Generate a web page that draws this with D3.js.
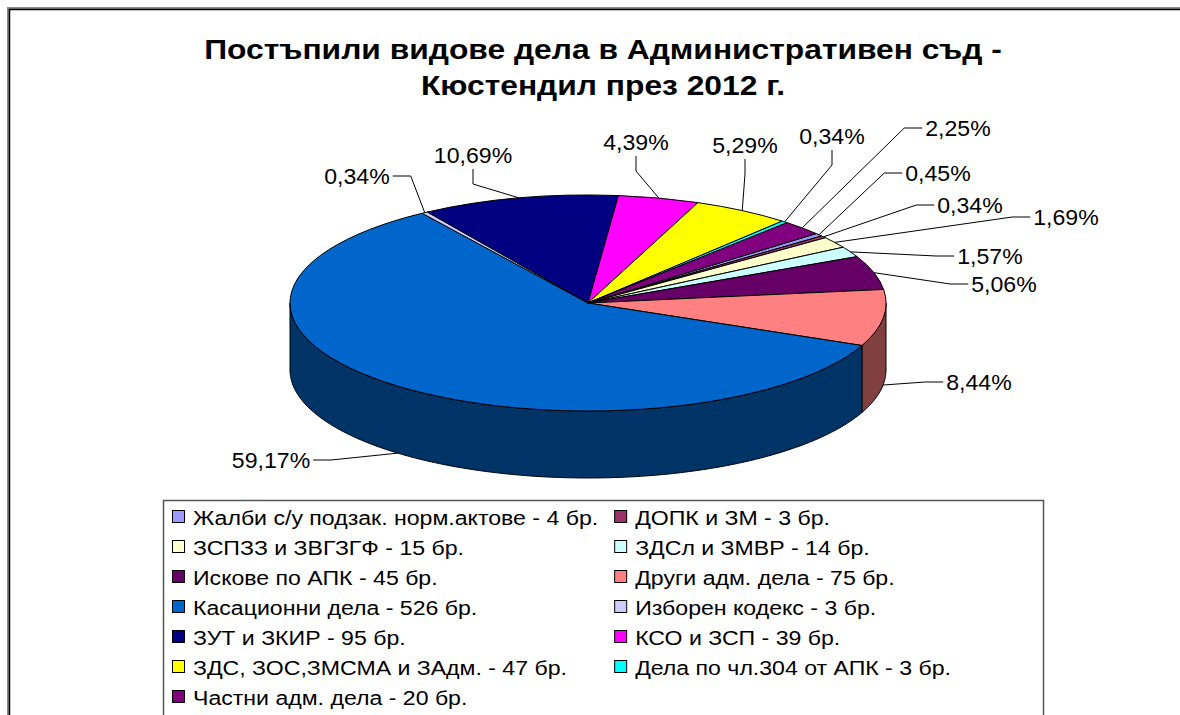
<!DOCTYPE html>
<html>
<head>
<meta charset="utf-8">
<script src="https://cdn.jsdelivr.net/npm/d3@7/dist/d3.min.js"></script>
<style>
  html, body { margin: 0; padding: 0; background: #fff; }
  svg { display: block; font-family: "Liberation Sans", Arial, sans-serif; }
</style>
</head>
<body>
<svg id="chart" width="1180" height="715"></svg>
<script>
// ---- data ----
const titleLines = ["Постъпили видове дела в Административен съд -", "Кюстендил през 2012 г."];
const categories = [
  "Жалби с/у подзак. норм.актове",
  "ДОПК и ЗМ",
  "ЗСПЗЗ и ЗВГЗГФ",
  "ЗДСл и ЗМВР",
  "Искове по АПК",
  "Други адм. дела",
  "Касационни дела",
  "Изборен кодекс",
  "ЗУТ и ЗКИР",
  "КСО и ЗСП",
  "ЗДС, ЗОС,ЗМСМА и ЗАдм.",
  "Дела по чл.304 от АПК",
  "Частни адм. дела"
];
const counts = [4, 3, 15, 14, 45, 75, 526, 3, 95, 39, 47, 3, 20];
const colors = ["#9999FF", "#993366", "#FFFFCC", "#CCFFFF", "#660066", "#FF8080", "#0066CC",
                "#CCCCFF", "#000080", "#FF00FF", "#FFFF00", "#00FFFF", "#800080"];

// ---- layout (not data) ----
const labelLayout = [
  {x: 938, y: 173, side: "left"},
  {x: 970, y: 205, side: "left"},
  {x: 1066, y: 217, side: "left"},
  {x: 990, y: 256, side: "left"},
  {x: 1004, y: 284, side: "left"},
  {x: 979, y: 382, side: "left"},
  {x: 271, y: 460, side: "right"},
  {x: 357, y: 176, side: "right"},
  {x: 473, y: 155, side: "below"},
  {x: 636, y: 142, side: "below"},
  {x: 745, y: 145, side: "below"},
  {x: 832, y: 136, side: "below"},
  {x: 958, y: 128, side: "left"}
];
const titleSX = 1.135, labelSX = 1.05, legendSX = 1.1;

const svg = d3.select("#chart");
const W = 1180, H = 715;

// frame
svg.append("path").attr("d", `M8.5,${H}V8.5H${W}`).attr("fill", "none")
  .attr("stroke", "#888").attr("stroke-width", 3);
svg.append("path").attr("d", `M9.5,${H}V9.5H${W}`).attr("fill", "none")
  .attr("stroke", "#000").attr("stroke-width", 1.5);

// title
svg.append("g").selectAll("text").data(titleLines).join("text")
  .attr("transform", (d, i) => `translate(603,${59 + i * 36}) scale(${titleSX},1)`)
  .attr("text-anchor", "middle").attr("font-weight", "bold").attr("font-size", 28)
  .attr("fill", "#000").text(d => d);

// pie geometry
const cx = 588, cy = 303, rx = 298, ry = 108, depth = 67;
const startDeg = 50;
const total = d3.sum(counts);
const pie = d3.pie().sort(null).value(d => d)
  .startAngle(startDeg * Math.PI / 180).endAngle(startDeg * Math.PI / 180 + 2 * Math.PI);
const arcs = pie(counts);

const ex = a => cx + rx * Math.sin(a);
const ey = (a, dy) => cy - ry * Math.cos(a) + dy;
const shade = c => { const r = d3.rgb(c); return d3.rgb(r.r * 0.5, r.g * 0.5, r.b * 0.5).formatHex(); };

// side walls (front half: angles PI/2 .. 3PI/2, modulo 2PI)
const sideG = svg.append("g");
arcs.forEach((a, i) => {
  const segs = [];
  for (const off of [0, 2 * Math.PI]) {
    const lo = Math.max(a.startAngle, Math.PI / 2 + off);
    const hi = Math.min(a.endAngle, 3 * Math.PI / 2 + off);
    if (hi > lo) segs.push([lo, hi]);
  }
  segs.forEach(([lo, hi]) => {
    const n = Math.max(2, Math.ceil((hi - lo) / 0.01));
    const ts = d3.range(n + 1).map(k => lo + (hi - lo) * k / n);
    const pts = ts.map(t => [ex(t), ey(t, 0)]).concat(ts.slice().reverse().map(t => [ex(t), ey(t, depth)]));
    sideG.append("path").attr("d", d3.line()(pts) + "Z")
      .attr("fill", shade(colors[i])).attr("stroke", "#000").attr("stroke-width", 1)
      .attr("stroke-linejoin", "round");
  });
});

// top faces
const arcGen = d3.arc().innerRadius(0).outerRadius(rx);
svg.append("g").attr("transform", `translate(${cx},${cy}) scale(1,${ry / rx})`)
  .selectAll("path").data(arcs).join("path")
  .attr("d", arcGen)
  .attr("fill", (d, i) => colors[i])
  .attr("stroke", "#000").attr("stroke-width", 1)
  .attr("vector-effect", "non-scaling-stroke").attr("stroke-linejoin", "round");

// labels + leaders
const fmt = v => (v / total * 100).toFixed(2).replace(".", ",");
const labG = svg.append("g");
arcs.forEach((a, i) => {
  const L = labelLayout[i];
  const t = labG.append("text")
    .attr("transform", `translate(${L.x},${L.y}) scale(${labelSX},1)`).attr("dy", "0.36em")
    .attr("text-anchor", "middle").attr("font-size", 22).attr("fill", "#000")
    .text(fmt(counts[i]) + "%");
  const w = t.node().getComputedTextLength() * labelSX;
  const mid = (a.startAngle + a.endAngle) / 2;
  const front = Math.cos(mid) < 0;
  const p = [ex(mid), ey(mid, front ? depth : 0)];
  let pts;
  if (L.side === "left") pts = [[L.x - w / 2 - 3, L.y], [L.x - w / 2 - 21, L.y], p];
  else if (L.side === "right") pts = [[L.x + w / 2 + 3, L.y], [L.x + w / 2 + 21, L.y], p];
  else pts = [[L.x, L.y + 14], [L.x, L.y + 29], p];
  labG.append("path").attr("d", d3.line()(pts)).attr("fill", "none")
    .attr("stroke", "#000").attr("stroke-width", 1);
});

// legend
const legG = svg.append("g");
legG.append("path").attr("d", `M163.5,${H}V500.5H1043.5V${H}`).attr("fill", "none")
  .attr("stroke", "#555").attr("stroke-width", 1.5);
const legX1 = 172, rowY0 = 517, rowH = 30;
const items = categories.map((c, i) => ({name: c + " - " + counts[i] + " бр.", color: colors[i], i}));
const itemG = legG.selectAll("g.item").data(items).join("g").attr("class", "item");
itemG.append("text").attr("font-size", 21).attr("fill", "#000").attr("dy", "0.36em")
  .attr("transform", `translate(21,0) scale(${legendSX},1)`).text(d => d.name);
let maxW = 0;
itemG.filter(d => d.i % 2 === 0).select("text").each(function () { maxW = Math.max(maxW, this.getComputedTextLength() * legendSX); });
const colX = [legX1, legX1 + 21 + maxW + 16];
itemG.attr("transform", d => `translate(${colX[d.i % 2]},${rowY0 + Math.floor(d.i / 2) * rowH})`);
itemG.insert("rect", "text").attr("x", 0.5).attr("y", -6.5).attr("width", 12).attr("height", 12)
  .attr("fill", d => d.color).attr("stroke", "#000").attr("stroke-width", 1);
</script>
</body>
</html>
